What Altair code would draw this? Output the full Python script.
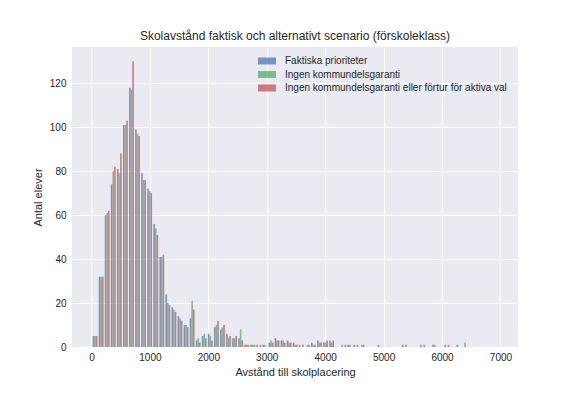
import altair as alt
import pandas as pd

series_names = [
    "Faktiska prioriteter",
    "Ingen kommundelsgaranti",
    "Ingen kommundelsgaranti eller förtur för aktiva val",
]
colors = ["#4C72B0", "#55A868", "#C44E52"]

bin_start = 10
bin_width = 103.8

blue = [5, 32, 60, 74, 81, 101, 118, 99, 79, 72, 56, 41, 24, 18, 14, 10, 13, 3, 5, 6,
        9, 8, 6, 4, 4, 1, 1, 1, 1, 2, 4, 3, 3, 2, 1, 0, 2, 3, 2, 3,
        0, 1, 1, 1, 0, 0, 0, 1, 0, 0, 0, 1, 0, 0, 1, 0, 1, 0, 1, 0, 1, 0]
green = [5, 32, 61, 80, 79, 101, 117, 97, 76, 71, 54, 41, 20, 17, 13, 10, 21, 4, 6, 5,
         10, 9, 4, 4, 8, 1, 1, 0, 1, 3, 3, 3, 2, 1, 0, 1, 1, 2, 2, 2,
         0, 0, 1, 0, 1, 0, 0, 0, 0, 0, 0, 0, 0, 0, 0, 0, 1, 0, 0, 0, 0, 2]
red = [5, 32, 62, 82, 88, 103, 130, 96, 76, 70, 51, 42, 19, 16, 12, 9, 17, 2, 4, 3,
       12, 10, 5, 5, 3, 1, 1, 1, 0, 2, 3, 2, 2, 1, 1, 1, 1, 2, 3, 3,
       0, 1, 0, 1, 1, 0, 0, 0, 0, 0, 0, 1, 0, 0, 1, 0, 0, 0, 1, 0, 0, 0]

x_ticks = [0, 1000, 2000, 3000, 4000, 5000, 6000, 7000]
y_ticks = [0, 20, 40, 60, 80, 100, 120]

rows = []
for s, (name, vals) in enumerate(zip(series_names, [blue, green, red])):
    for i, v in enumerate(vals):
        rows.append({"bin": i, "series": name, "idx": s, "count": v})
df = pd.DataFrame(rows)

font = "Liberation Sans"
txt = "#262626"

chart = (
    alt.Chart(df)
    .transform_filter("datum.count > 0")
    .transform_calculate(
        x0=f"{bin_start} + datum.bin*{bin_width} + 0.1*{bin_width} + datum.idx*{bin_width}*0.8/3",
    )
    .transform_calculate(x1=f"datum.x0 + {bin_width}*0.8/3")
    .mark_rect(opacity=0.72)
    .encode(
        x=alt.X(
            "x0:Q",
            scale=alt.Scale(domain=[-333, 7300], nice=False, zero=False),
            axis=alt.Axis(values=x_ticks, title="Avstånd till skolplacering", format="d"),
        ),
        x2="x1:Q",
        y=alt.Y(
            "count:Q",
            scale=alt.Scale(domain=[0, 136.5], nice=False),
            axis=alt.Axis(values=y_ticks, title="Antal elever"),
        ),
        y2=alt.datum(0),
        color=alt.Color(
            "series:N",
            scale=alt.Scale(domain=series_names, range=colors),
            legend=alt.Legend(
                orient="none",
                legendX=190,
                legendY=9,
                title=None,
                symbolType="M-1.8,-0.7H1.8V0.7H-1.8Z",
                symbolSize=100,
                symbolOpacity=0.72,
                symbolStrokeWidth=0,
                labelFontSize=10,
                labelFont=font,
                labelColor=txt,
                labelOffset=13,
                labelLimit=0,
                rowPadding=3.5,
                padding=0,
            ),
        ),
    )
    .properties(
        width=446,
        height=300,
        title="Skolavstånd faktisk och alternativt scenario (förskoleklass)",
        autosize=alt.AutoSizeParams(type="none"),
        padding={"left": 64, "top": 39, "right": 50, "bottom": 41},
        background="white",
    )
    .configure_view(fill="#EAEAF2", stroke=None)
    .configure_axis(
        grid=True,
        gridColor="white",
        gridWidth=1,
        domain=False,
        ticks=False,
        tickSize=0,
        labelFont=font,
        labelFontSize=10,
        labelColor=txt,
        titleFont=font,
        titleFontSize=11,
        titleFontWeight="normal",
        titleColor=txt,
    )
    .configure_axisX(labelPadding=5, titlePadding=4)
    .configure_axisY(labelPadding=6, titlePadding=6)
    .configure_title(font=font, fontSize=12, fontWeight="normal", color=txt, anchor="middle", offset=4)
)

chart.save("out.html", embed_options={"renderer": "svg", "actions": False})
